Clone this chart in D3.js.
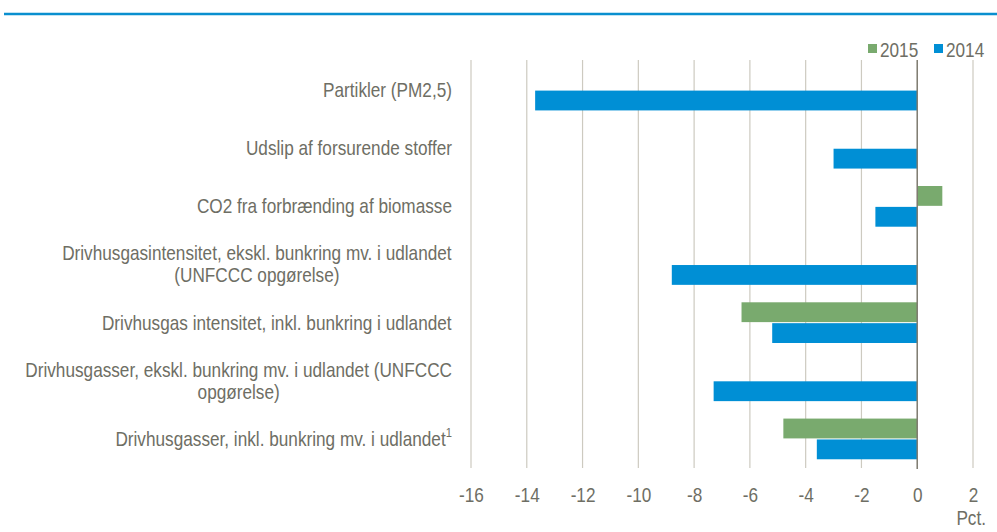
<!DOCTYPE html>
<html>
<head>
<meta charset="utf-8" />
<title>Udslip</title>
<script src="https://d3js.org/d3.v7.min.js"></script>
<style>
    body { margin: 0; background: #fff; }
    svg text { font-family: "Liberation Sans", Arial, sans-serif; fill: #6e6e64; }
</style>
</head>
<body>
<svg id="chart" width="997" height="532"></svg>
<script>
// category labels (one array entry per line)
var categories = [
    ["Partikler (PM2,5)"],
    ["Udslip af forsurende stoffer"],
    ["CO2 fra forbrænding af biomasse"],
    ["Drivhusgasintensitet, ekskl. bunkring mv. i udlandet", "(UNFCCC opgørelse)"],
    ["Drivhusgas intensitet, inkl. bunkring i udlandet"],
    ["Drivhusgasser, ekskl. bunkring mv. i udlandet (UNFCCC", "opgørelse)"],
    ["Drivhusgasser, inkl. bunkring mv. i udlandet"]
];
var footnote = [null, null, null, null, null, null, "1"];
var series = ["2015", "2014"];
var values2015 = [null, null, 0.9, null, -6.3, null, -4.8];
var values2014 = [-13.7, -3.0, -1.5, -8.8, -5.2, -7.3, -3.6];
var ticks = [-16, -14, -12, -10, -8, -6, -4, -2, 0, 2];
var colors = { "2015": "#79aa6e", "2014": "#008fd5" };

// no condensed font available, so squeeze text horizontally
var squeeze = 0.86;

var svg = d3.select("#chart");

// blue rule under the (cropped) heading
svg.append("line")
    .attr("x1", 4).attr("x2", 997)
    .attr("y1", 14).attr("y2", 14)
    .attr("stroke", "#0a8fcf").attr("stroke-width", 2.5);

var x = d3.scaleLinear().domain([-16, 2]).range([471, 973]);
var idx = d3.range(categories.length);
var y = d3.scaleBand().domain(idx).range([61, 468])
    .paddingInner(0.3).paddingOuter(0.15);
var y1 = d3.scaleBand().domain(series).range([0, y.bandwidth()]).paddingInner(0.05);

// grid
svg.append("g").selectAll("line")
    .data(ticks.filter(function(d){ return d !== 0; }))
    .enter().append("line")
    .attr("x1", function(d){ return x(d); })
    .attr("x2", function(d){ return x(d); })
    .attr("y1", 60).attr("y2", 468)
    .attr("stroke", "#cdcac0").attr("stroke-width", 1.2);

// bars
var rows = [];
idx.forEach(function(i){
    if (values2015[i] != null) rows.push({i: i, s: "2015", v: values2015[i]});
    if (values2014[i] != null) rows.push({i: i, s: "2014", v: values2014[i]});
});
svg.append("g").selectAll("rect")
    .data(rows)
    .enter().append("rect")
    .attr("x", function(d){ return Math.min(x(0), x(d.v)); })
    .attr("width", function(d){ return Math.abs(x(d.v) - x(0)); })
    .attr("y", function(d){ return y(d.i) + y1(d.s); })
    .attr("height", y1.bandwidth())
    .attr("fill", function(d){ return colors[d.s]; });

// zero line
svg.append("line")
    .attr("x1", x(0)).attr("x2", x(0))
    .attr("y1", 60).attr("y2", 469)
    .attr("stroke", "#7d7a6f").attr("stroke-width", 1.5);

// x axis labels
var xAxis = d3.axisBottom(x).tickValues(ticks).tickSize(0).tickPadding(0)
    .tickFormat(function(d){ return d < 0 ? "-" + Math.abs(d) : d; });
var gx = svg.append("g").attr("transform", "translate(0,488)").call(xAxis);
gx.select(".domain").remove();
gx.selectAll("text").attr("font-size", 20).attr("fill", "#6e6e64")
    .attr("transform", "scale(" + squeeze + ",1)")
    .style("font-family", "'Liberation Sans', Arial, sans-serif");

svg.append("g").attr("transform", "translate(986,0) scale(" + squeeze + ",1)")
    .append("text")
    .attr("x", 0).attr("y", 525)
    .attr("text-anchor", "end").attr("font-size", 20)
    .text("Pct.");

// category labels
var labelRight = 452;
idx.forEach(function(i){
    var lines = categories[i];
    var cy = y(i) + y.bandwidth() / 2;
    var lh = 22;
    var g = svg.append("g").attr("transform", "translate(" + labelRight + ",0) scale(" + squeeze + ",1)");
    var t = g.append("text").attr("font-size", 20).attr("text-anchor", "middle");
    lines.forEach(function(l, k){
        var ts = t.append("tspan").attr("x", 0)
            .attr("y", cy + 7 + (k - (lines.length - 1) / 2) * lh)
            .text(l);
        if (k === lines.length - 1 && footnote[i]) {
            ts.append("tspan").attr("dy", -9).attr("font-size", 13).text(footnote[i]);
        }
    });
    var w = t.node().getBBox().width;
    t.selectAll("tspan").filter(function(){ return this.parentNode === t.node(); })
        .attr("x", -w / 2);
});

// legend
var legend = svg.append("g");
var legendX = { "2015": 868, "2014": 934 };
series.forEach(function(s){
    legend.append("rect")
        .attr("x", legendX[s]).attr("y", 44)
        .attr("width", 9).attr("height", 9)
        .attr("fill", colors[s]);
    legend.append("g").attr("transform", "translate(" + (legendX[s] + 12) + ",0) scale(" + squeeze + ",1)")
        .append("text")
        .attr("x", 0).attr("y", 57)
        .attr("font-size", 20)
        .text(s);
});
</script>
</body>
</html>
